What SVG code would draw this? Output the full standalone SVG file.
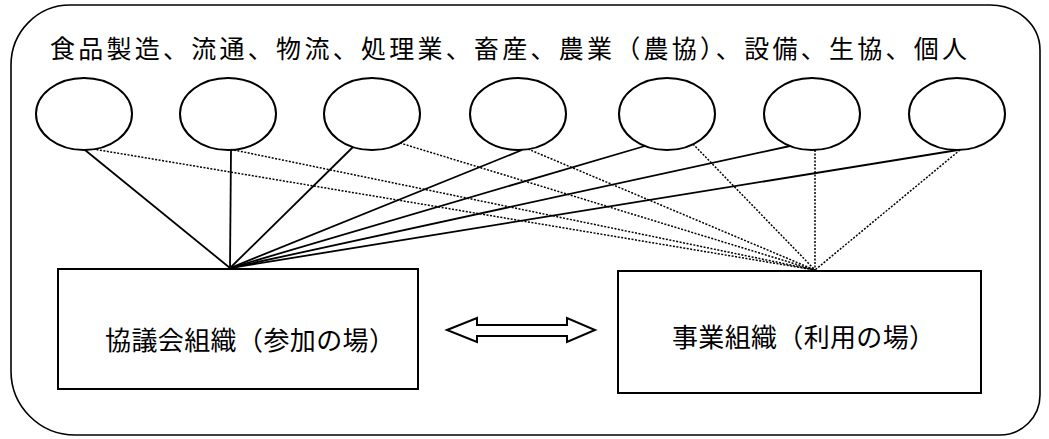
<svg xmlns="http://www.w3.org/2000/svg" width="1049" height="439" viewBox="0 0 1049 439">
<style>
.frame{fill:none;stroke:#000;stroke-width:1.6}
.node{fill:#fff;stroke:#000;stroke-width:2}
.solid{stroke:#000;stroke-width:1.8;fill:none}
.dot{stroke:#000;stroke-width:1.5;stroke-dasharray:2 1.5;fill:none}
.t{font-family:"Noto Sans CJK JP","Noto Sans CJK SC",sans-serif;fill:#000}
</style>
<rect width="1049" height="439" fill="#fff"/>
<path class="frame" d="M70,5 H990 A50 45 0 0 1 1040,50 V395 A40 40 0 0 1 1000,435 H75 A64 64 0 0 1 11,371 V65 A59 60 0 0 1 70,5 Z"/>
<text class="t" x="50" y="58" font-size="25" textLength="917" lengthAdjust="spacing">食品製造、流通、物流、処理業、畜産、農業（農協）、設備、生協、個人</text>
<g id="connectors">
<line class="solid" x1="85" y1="150" x2="230" y2="268"/>
<line class="solid" x1="231" y1="150" x2="230" y2="268"/>
<line class="solid" x1="353" y1="147" x2="230" y2="268"/>
<line class="solid" x1="522" y1="150" x2="230" y2="268"/>
<line class="solid" x1="645" y1="146" x2="230" y2="268"/>
<line class="solid" x1="790" y1="146" x2="230" y2="268"/>
<line class="solid" x1="958" y1="150" x2="230" y2="268"/>
<line class="dot" x1="93" y1="149" x2="815" y2="270"/>
<line class="dot" x1="234" y1="150" x2="815" y2="270"/>
<line class="dot" x1="400" y1="143" x2="815" y2="270"/>
<line class="dot" x1="528" y1="149" x2="815" y2="270"/>
<line class="dot" x1="693" y1="144" x2="815" y2="270"/>
<line class="dot" x1="815" y1="150" x2="815" y2="270"/>
<line class="dot" x1="960" y1="150" x2="815" y2="270"/>
<polygon class="node" points="447,330 477,318 477,325 567,325 567,318 595,330 567,342 567,336 477,336 477,342"/>
</g>
<g id="n1"><ellipse class="node" cx="84" cy="114" rx="48" ry="36"/></g>
<g id="n2"><ellipse class="node" cx="228" cy="114" rx="48" ry="36"/></g>
<g id="n3"><ellipse class="node" cx="372" cy="114" rx="48" ry="36"/></g>
<g id="n4"><ellipse class="node" cx="518" cy="114" rx="48" ry="36"/></g>
<g id="n5"><ellipse class="node" cx="667" cy="114" rx="48" ry="36"/></g>
<g id="n6"><ellipse class="node" cx="812" cy="114" rx="48" ry="36"/></g>
<g id="n7"><ellipse class="node" cx="957" cy="114" rx="48" ry="36"/></g>
<g id="council">
<rect class="node" x="58" y="269" width="360" height="120"/>
<text class="t" x="105" y="350" font-size="26" textLength="290" lengthAdjust="spacing">協議会組織（参加の場）</text>
</g>
<g id="business">
<rect class="node" x="618" y="271" width="363" height="122"/>
<text class="t" x="672" y="347" font-size="26" textLength="263" lengthAdjust="spacing">事業組織（利用の場）</text>
</g>
</svg>
